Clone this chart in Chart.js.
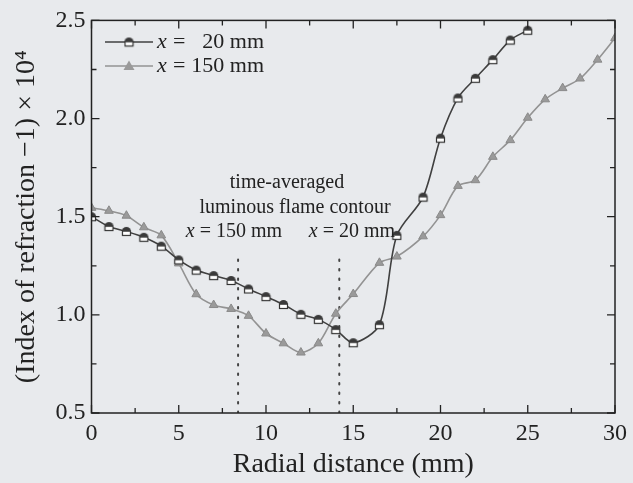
<!DOCTYPE html>
<html>
<head>
<meta charset="utf-8">
<script src="https://cdn.jsdelivr.net/npm/chart.js@4.4.1/dist/chart.umd.min.js"></script>
<style>
    html, body { margin: 0; padding: 0; background: #e8eaed; }
    #wrap { width: 633px; height: 483px; }
</style>
</head>
<body>
<div id="wrap"><canvas id="refractionChart" width="633" height="483"></canvas></div>
<script>
// radial positions (mm) and index values
const radius20 = [0, 1, 2, 3, 4, 5, 6, 7, 8, 9, 10, 11, 12, 13, 14, 15, 16.5, 17.5, 19, 20, 21, 22, 23, 24, 25];
const index20 = [1.50, 1.45, 1.425, 1.395, 1.35, 1.28, 1.228, 1.20, 1.175, 1.132, 1.093, 1.053, 1.003, 0.977, 0.925, 0.858,
    0.95, 1.405, 1.60, 1.90, 2.105, 2.205, 2.30, 2.40, 2.45];

const radius150 = [0, 1, 2, 3, 4, 5, 6, 7, 8, 9, 10, 11, 12, 13, 14, 15, 16.5, 17.5, 19, 20, 21, 22, 23, 24, 25, 26, 27, 28, 29, 30];
const index150 = [1.545, 1.53, 1.505, 1.446, 1.405, 1.262, 1.105, 1.05, 1.03, 0.995, 0.905, 0.855, 0.808, 0.855, 1.006, 1.106,
    1.265, 1.297, 1.40, 1.508, 1.657, 1.686, 1.805, 1.89, 2.004, 2.098, 2.155, 2.204, 2.30, 2.41];

// flame contour positions (mm) and the height the dotted lines reach
const contourRadius = [8.4, 14.2];
const contourTop = 1.31;
const contourLabels = ['x = 150 mm', 'x = 20 mm'];

const legendLabels = ['20 mm', '150 mm'];
const xTicks = { min: 0, max: 30, step: 2.5 };
const yTicks = { min: 0.5, max: 2.5, step: 0.25 };

const serif = '"Liberation Serif", "Times New Roman", serif';
const ink = '#222222';

// marker for x = 20 mm: dark cap over an open square
function makeCapMarker() {
    const c = document.createElement('canvas');
    c.width = 11; c.height = 11;
    const g = c.getContext('2d');
    g.fillStyle = '#ffffff';
    g.strokeStyle = '#333';
    g.lineWidth = 1.2;
    g.fillRect(1.5, 5, 8, 4.5);
    g.strokeRect(1.5, 5, 8, 4.5);
    g.beginPath();
    g.arc(5.5, 5.5, 4.5, Math.PI, 0);
    g.closePath();
    g.fillStyle = '#3a3a3a';
    g.fill();
    return c;
}
const capMarker = makeCapMarker();

function pairs(xs, ys) {
    return xs.map((x, i) => ({ x: x, y: ys[i] }));
}

const ctx = document.getElementById('refractionChart').getContext('2d');

const datasets = [
    {
        label: legendLabels[0],
        data: pairs(radius20, index20),
        borderColor: '#404040',
        borderWidth: 1.6,
        tension: 0.3,
        pointStyle: capMarker,
        pointRadius: 5
    },
    {
        label: legendLabels[1],
        data: pairs(radius150, index150),
        borderColor: '#939393',
        borderWidth: 1.6,
        tension: 0.3,
        pointStyle: 'triangle',
        pointRadius: 5,
        pointBackgroundColor: '#9a9a9a',
        pointBorderColor: '#8a8a8a',
        pointBorderWidth: 1
    }
];

contourRadius.forEach(function (r) {
    datasets.push({
        label: 'contour',
        data: [{ x: r, y: yTicks.min }, { x: r, y: contourTop }],
        borderColor: '#444',
        borderWidth: 2,
        borderDash: [1.5, 8],
        borderCapStyle: 'round',
        pointRadius: 0,
        tension: 0
    });
});

// background, frame with inward ticks, legend and text labels
const decorations = {
    id: 'decorations',
    beforeDraw(chart) {
        const g = chart.ctx;
        g.save();
        g.fillStyle = '#e8eaed';
        g.fillRect(0, 0, chart.width, chart.height);
        g.restore();
    },
    afterDraw(chart) {
        const g = chart.ctx;
        const a = chart.chartArea;
        const xs = chart.scales.x, ys = chart.scales.y;
        g.save();
        g.strokeStyle = ink;
        g.lineWidth = 1.5;
        g.strokeRect(a.left, a.top, a.right - a.left, a.bottom - a.top);

        g.lineWidth = 1.3;
        xs.ticks.forEach(function (t) {
            const px = xs.getPixelForValue(t.value);
            const len = (Math.abs(t.value % 5) < 1e-6) ? 8 : 5;
            g.beginPath();
            g.moveTo(px, a.bottom); g.lineTo(px, a.bottom - len);
            g.moveTo(px, a.top); g.lineTo(px, a.top + len);
            g.stroke();
        });
        ys.ticks.forEach(function (t) {
            const py = ys.getPixelForValue(t.value);
            const len = (Math.abs(t.value % 0.5) < 1e-6) ? 8 : 5;
            g.beginPath();
            g.moveTo(a.left, py); g.lineTo(a.left + len, py);
            g.moveTo(a.right, py); g.lineTo(a.right - len, py);
            g.stroke();
        });

        // legend
        const rows = [42, 66];
        datasets.slice(0, 2).forEach(function (ds, i) {
            const y = rows[i];
            g.strokeStyle = ds.borderColor;
            g.lineWidth = 1.6;
            g.beginPath();
            g.moveTo(105, y); g.lineTo(153, y);
            g.stroke();
            if (i === 0) {
                g.drawImage(capMarker, 129 - 5.5, y - 5.5);
            } else {
                g.fillStyle = '#9a9a9a';
                g.beginPath();
                g.moveTo(129, y - 5.5); g.lineTo(134.5, y + 4); g.lineTo(123.5, y + 4);
                g.closePath();
                g.fill();
            }
            g.fillStyle = ink;
            g.textBaseline = 'middle';
            g.textAlign = 'left';
            g.font = 'italic 22px ' + serif;
            g.fillText('x', 157, y);
            g.font = '22px ' + serif;
            g.fillText('=', 173, y);
            g.textAlign = 'right';
            g.fillText(ds.label, 264, y);
        });

        // flame contour note
        g.fillStyle = ink;
        g.textAlign = 'center';
        g.textBaseline = 'middle';
        g.font = '20px ' + serif;
        g.fillText('time-averaged', 287, 183);
        g.fillText('luminous flame contour', 295, 208);
        const cx = [234, 352];
        contourLabels.forEach(function (txt, i) {
            const parts = txt.split(' = ');
            g.font = 'italic 20px ' + serif;
            const w1 = g.measureText('x').width;
            g.font = '20px ' + serif;
            const rest = ' = ' + parts[1];
            const w2 = g.measureText(rest).width;
            const x0 = cx[i] - (w1 + w2) / 2;
            g.textAlign = 'left';
            g.font = 'italic 20px ' + serif;
            g.fillText('x', x0, 232);
            g.font = '20px ' + serif;
            g.fillText(rest, x0 + w1, 232);
        });
        g.restore();
    }
};

const chart = new Chart(ctx, {
    type: 'line',
    data: { datasets: datasets },
    options: {
        responsive: false,
        animation: false,
        layout: { padding: { top: 19, right: 14, left: 0, bottom: 0 } },
        plugins: {
            legend: { display: false },
            tooltip: { enabled: false }
        },
        scales: {
            x: {
                type: 'linear',
                min: xTicks.min,
                max: xTicks.max,
                afterFit: function (scale) { scale.height = 70; },
                grid: { display: false, drawTicks: false },
                border: { display: false },
                ticks: {
                    stepSize: xTicks.step,
                    autoSkip: false,
                    maxRotation: 0,
                    padding: 6,
                    color: ink,
                    font: { family: serif, size: 24 },
                    callback: function (v) { return (v % 5 === 0) ? String(v) : ''; }
                },
                title: {
                    display: true,
                    text: 'Radial distance (mm)',
                    color: ink,
                    font: { family: serif, size: 28, lineHeight: 1.2 },
                    padding: { top: 0, bottom: 2 }
                }
            },
            y: {
                type: 'linear',
                min: yTicks.min,
                max: yTicks.max,
                afterFit: function (scale) { scale.width = 91.5; },
                grid: { display: false, drawTicks: false },
                border: { display: false },
                ticks: {
                    stepSize: yTicks.step,
                    autoSkip: false,
                    padding: 6,
                    color: ink,
                    font: { family: serif, size: 24 },
                    callback: function (v) { return (Math.abs(v % 0.5) < 1e-6) ? v.toFixed(1) : ''; }
                },
                title: {
                    display: true,
                    text: '(Index of refraction \u22121) \u00d7 10\u2074',
                    color: ink,
                    font: { family: serif, size: 28, lineHeight: 1.2 },
                    padding: { top: 10, bottom: 0 }
                }
            }
        }
    },
    plugins: [decorations]
});
</script>
</body>
</html>
